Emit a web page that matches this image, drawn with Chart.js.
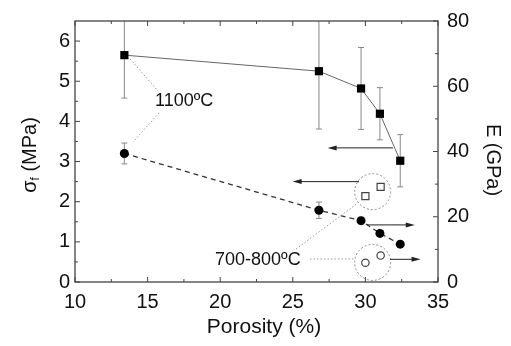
<!DOCTYPE html>
<html>
<head>
<meta charset="utf-8">
<script src="https://cdn.jsdelivr.net/npm/chart.js@4/dist/chart.umd.min.js"></script>
<style>
    html, body { margin: 0; padding: 0; background: #fff; }
    #wrap { width: 511px; height: 346px; }
</style>
</head>
<body>
<div id="wrap"><canvas id="porosityChart" width="511" height="346"></canvas></div>
<script>
// 1100ºC series
const porosity = [13.4, 26.8, 29.7, 31.0, 32.4];
const strength = [5.65, 5.25, 4.82, 4.19, 3.02];       // MPa
const strengthErr = [1.07, 1.44, 1.02, 0.65, 0.65];
const modulus = [39.4, 22.0, 18.8, 14.9, 11.6];        // GPa
const modulusErr = [3.2, 2.5, 1.0, 0, 0];

// 700-800ºC series
const lowPorosity = [30.0, 31.05];
const lowStrength = [2.14, 2.37];
const lowModulus = [5.9, 8.1];

const xTicks = [10, 15, 20, 25, 30, 35];
const leftTicks = [0, 1, 2, 3, 4, 5, 6];
const rightTicks = [0, 20, 40, 60, 80];

const FONT = '"Liberation Sans", Arial, sans-serif';

function pts(xs, ys) {
    return xs.map((x, i) => ({ x: x, y: ys[i] }));
}

const errorBars = {
    id: 'errorBars',
    beforeDatasetsDraw(chart) {
        const ctx = chart.ctx, a = chart.chartArea;
        const sx = chart.scales.x;
        ctx.save();
        ctx.beginPath();
        ctx.rect(a.left, a.top, a.right - a.left, a.bottom - a.top);
        ctx.clip();
        ctx.strokeStyle = '#888';
        ctx.lineWidth = 1;
        const draw = (vals, errs, scale) => {
            vals.forEach((v, i) => {
                if (!errs[i]) return;
                const x = sx.getPixelForValue(porosity[i]);
                const y1 = scale.getPixelForValue(v + errs[i]);
                const y2 = scale.getPixelForValue(v - errs[i]);
                ctx.beginPath();
                ctx.moveTo(x, y1); ctx.lineTo(x, y2);
                ctx.moveTo(x - 3, y1); ctx.lineTo(x + 3, y1);
                ctx.moveTo(x - 3, y2); ctx.lineTo(x + 3, y2);
                ctx.stroke();
            });
        };
        draw(strength, strengthErr, chart.scales.y);
        draw(modulus, modulusErr, chart.scales.y1);
        ctx.restore();
    }
};

const frame = {
    id: 'frame',
    afterDatasetsDraw(chart) {
        const ctx = chart.ctx, a = chart.chartArea;
        const sx = chart.scales.x, sy = chart.scales.y, sy1 = chart.scales.y1;
        ctx.save();
        ctx.strokeStyle = '#444';
        ctx.lineWidth = 1.3;
        ctx.strokeRect(a.left, a.top, a.right - a.left, a.bottom - a.top);
        ctx.lineWidth = 1;
        ctx.beginPath();
        for (let v = 10; v <= 35; v += 2.5) {
            const x = sx.getPixelForValue(v);
            const len = v % 5 === 0 ? 5 : 3;
            ctx.moveTo(x, a.bottom); ctx.lineTo(x, a.bottom - len);
            ctx.moveTo(x, a.top); ctx.lineTo(x, a.top + len);
        }
        for (let v = 0; v <= 6; v += 0.5) {
            const y = sy.getPixelForValue(v);
            const len = v % 1 === 0 ? 5 : 3;
            ctx.moveTo(a.left, y); ctx.lineTo(a.left + len, y);
        }
        for (let v = 0; v <= 80; v += 10) {
            const y = sy1.getPixelForValue(v);
            const len = v % 20 === 0 ? 5 : 3;
            ctx.moveTo(a.right, y); ctx.lineTo(a.right - len, y);
        }
        ctx.stroke();

        // axis titles
        ctx.fillStyle = '#111';
        ctx.textBaseline = 'middle';
        ctx.textAlign = 'center';
        ctx.font = '21px ' + FONT;
        ctx.fillText('Porosity (%)', 264, 327);

        ctx.save();
        ctx.translate(30, 155);
        ctx.rotate(-Math.PI / 2);
        ctx.textAlign = 'left';
        ctx.font = '20px ' + FONT;
        const w1 = ctx.measureText('σ').width;
        const w3 = ctx.measureText(' (MPa)').width;
        ctx.font = '12px ' + FONT;
        const w2 = ctx.measureText('f').width;
        let x0 = -(w1 + w2 + w3) / 2;
        ctx.font = '20px ' + FONT;
        ctx.fillText('σ', x0, 0);
        ctx.font = '12px ' + FONT;
        ctx.fillText('f', x0 + w1, 6);
        ctx.font = '20px ' + FONT;
        ctx.fillText(' (MPa)', x0 + w1 + w2, 0);
        ctx.restore();

        ctx.save();
        ctx.translate(493, 160);
        ctx.rotate(Math.PI / 2);
        ctx.font = '20px ' + FONT;
        ctx.fillText('E (GPa)', 0, 0);
        ctx.restore();

        // annotations
        const px = v => sx.getPixelForValue(v);
        const pyL = v => sy.getPixelForValue(v);
        const pyR = v => sy1.getPixelForValue(v);

        ctx.font = '18px ' + FONT;
        ctx.textAlign = 'left';
        ctx.fillText('1100ºC', 155, 101);
        ctx.fillText('700-800ºC', 215, 260);

        ctx.strokeStyle = '#999';
        ctx.setLineDash([1.5, 2]);
        ctx.beginPath();
        ctx.moveTo(130, 59); ctx.lineTo(158, 91);
        ctx.moveTo(159, 113); ctx.lineTo(133, 142);
        ctx.moveTo(296, 249); ctx.lineTo(358, 203);
        ctx.moveTo(310, 259); ctx.lineTo(355, 259);
        ctx.stroke();

        ctx.strokeStyle = '#888';
        ctx.setLineDash([2, 2]);
        ctx.beginPath();
        ctx.arc(px(30.5), pyL(2.25), 18, 0, Math.PI * 2);
        ctx.stroke();
        ctx.beginPath();
        ctx.arc(px(30.5), pyR(6.0), 18, 0, Math.PI * 2);
        ctx.stroke();
        ctx.setLineDash([]);

        const arrow = (x1, x2, y) => {
            ctx.strokeStyle = '#222';
            ctx.fillStyle = '#222';
            ctx.lineWidth = 1;
            const dir = x2 > x1 ? 1 : -1;
            ctx.beginPath();
            ctx.moveTo(x1, y); ctx.lineTo(x2 - dir * 6, y);
            ctx.stroke();
            ctx.beginPath();
            ctx.moveTo(x2, y);
            ctx.lineTo(x2 - dir * 9, y - 2.5);
            ctx.lineTo(x2 - dir * 9, y + 2.5);
            ctx.closePath();
            ctx.fill();
        };
        arrow(px(31.9), px(27.4), pyL(3.34));
        arrow(px(29.56), px(24.99), pyL(2.5));
        arrow(px(30.1), px(33.4), pyR(17.5));
        arrow(px(31.7), px(33.8), pyR(6.95));
        ctx.restore();
    }
};

const ctxPorosity = document.getElementById('porosityChart').getContext('2d');
const porosityChart = new Chart(ctxPorosity, {
    type: 'scatter',
    data: {
        datasets: [{
            label: 'σf 1100ºC',
            data: pts(porosity, strength),
            yAxisID: 'y',
            showLine: true,
            borderColor: '#666',
            borderWidth: 1,
            pointStyle: 'rect',
            pointRadius: 5.8,
            pointBackgroundColor: '#000',
            pointBorderColor: '#000',
            pointBorderWidth: 0
        }, {
            label: 'E 1100ºC',
            data: pts(porosity, modulus),
            yAxisID: 'y1',
            showLine: true,
            borderColor: '#333',
            borderWidth: 1.3,
            borderDash: [5, 4],
            pointStyle: 'circle',
            pointRadius: 4.5,
            pointBackgroundColor: '#000',
            pointBorderColor: '#000',
            pointBorderWidth: 0
        }, {
            label: 'σf 700-800ºC',
            data: pts(lowPorosity, lowStrength),
            yAxisID: 'y',
            showLine: false,
            pointStyle: 'rect',
            pointRadius: 5,
            pointBackgroundColor: '#fff',
            pointBorderColor: '#444',
            pointBorderWidth: 1.2
        }, {
            label: 'E 700-800ºC',
            data: pts(lowPorosity, lowModulus),
            yAxisID: 'y1',
            showLine: false,
            pointStyle: 'circle',
            pointRadius: 3.7,
            pointBackgroundColor: '#fff',
            pointBorderColor: '#444',
            pointBorderWidth: 1.2
        }]
    },
    options: {
        responsive: false,
        animation: false,
        layout: { padding: { top: 14, left: 0, right: 0, bottom: 0 } },
        scales: {
            x: {
                type: 'linear',
                min: 10,
                max: 35,
                afterBuildTicks: s => { s.ticks = xTicks.map(v => ({ value: v })); },
                afterFit: s => { s.height = 64; },
                grid: { display: false, drawTicks: false },
                border: { display: false },
                ticks: { padding: 8, color: '#111', font: { family: FONT, size: 20 } }
            },
            y: {
                position: 'left',
                min: 0,
                max: 6.5,
                afterBuildTicks: s => { s.ticks = leftTicks.map(v => ({ value: v })); },
                afterFit: s => { s.width = 75; },
                grid: { display: false, drawTicks: false },
                border: { display: false },
                ticks: { padding: 5, color: '#111', font: { family: FONT, size: 20 } }
            },
            y1: {
                position: 'right',
                min: 0,
                max: 80,
                afterBuildTicks: s => { s.ticks = rightTicks.map(v => ({ value: v })); },
                afterFit: s => { s.width = 73; },
                grid: { display: false, drawTicks: false },
                border: { display: false },
                ticks: { padding: 9, color: '#111', font: { family: FONT, size: 20 } }
            }
        },
        plugins: {
            legend: { display: false },
            tooltip: { enabled: false }
        }
    },
    plugins: [errorBars, frame]
});
</script>
</body>
</html>
